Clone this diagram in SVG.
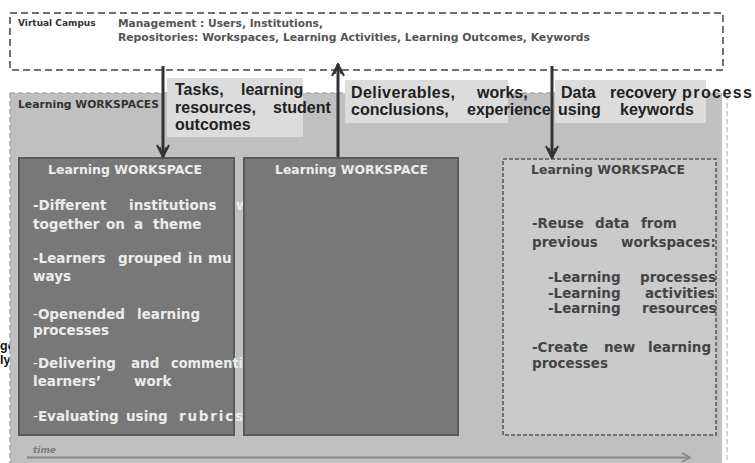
<svg xmlns="http://www.w3.org/2000/svg" width="755" height="463" viewBox="0 0 755 463">
<defs>
<style>
.lbl{font-family:"Liberation Sans",Arial,sans-serif;font-weight:bold;font-size:16px;fill:#222}
.body{font-family:"DejaVu Sans",Verdana,sans-serif;font-weight:bold;font-size:13.5px}
.lt{fill:#ececec}
.dk{fill:#444}
.hdr{font-family:"DejaVu Sans",Verdana,sans-serif;font-weight:bold;font-size:12px}
.thin{font-weight:normal}
.conn{stroke:#333;stroke-width:3;fill:none}
</style>
<marker id="ah" viewBox="0 0 14 14" refX="13" refY="7" markerWidth="14" markerHeight="14" markerUnits="userSpaceOnUse" orient="auto">
<path d="M1,1 L13,7 L1,13 M3,3.5 L13,7 L3,10.5" fill="none" stroke="#333" stroke-width="2"/>
</marker>
<marker id="th" viewBox="0 0 12 12" refX="11" refY="6" markerWidth="12" markerHeight="12" markerUnits="userSpaceOnUse" orient="auto">
<path d="M3,1.5 L11,6 L3,10.5" fill="none" stroke="#888" stroke-width="2"/>
</marker>
</defs>
<rect width="755" height="463" fill="#ffffff"/>

<!-- partly hidden text at the left edge -->
<g id="stray" font-family="Liberation Sans,Arial,sans-serif" font-weight="bold" font-size="12.5" fill="#111">
<text x="0" y="350">ge</text>
<text x="0" y="364">ly</text>
</g>

<!-- Virtual Campus -->
<g id="virtual-campus">
<rect x="10" y="13" width="713" height="57" fill="#ffffff" stroke="#444" stroke-width="1.5" stroke-dasharray="7,4"/>
<text x="18" y="26" font-family="DejaVu Sans,Verdana,sans-serif" font-weight="bold" font-size="9" fill="#333">Virtual Campus</text>
<text x="118" y="27" font-family="DejaVu Sans,Verdana,sans-serif" font-weight="bold" font-size="10.3" fill="#555" textLength="205" lengthAdjust="spacingAndGlyphs">Management : Users, Institutions,</text>
<text x="118" y="41" font-family="DejaVu Sans,Verdana,sans-serif" font-weight="bold" font-size="10.3" fill="#555" textLength="472" lengthAdjust="spacingAndGlyphs">Repositories: Workspaces, Learning Activities, Learning Outcomes, Keywords</text>
</g>

<!-- Learning WORKSPACES background -->
<g id="workspaces">
<rect x="10" y="93" width="712" height="370" fill="#c0c0c0"/>
<path d="M10,93 H722 M10,93 V463" stroke="#a9a9a9" stroke-width="1.5" stroke-dasharray="5,3" fill="none"/>
<path d="M727,95 V463" stroke="#c8c8c8" stroke-width="1.5" stroke-dasharray="5,3" fill="none"/>
<text x="18" y="108" font-family="DejaVu Sans,Verdana,sans-serif" font-weight="bold" font-size="10.7" fill="#333" textLength="141" lengthAdjust="spacingAndGlyphs">Learning WORKSPACES</text>
</g>

<!-- label boxes -->
<g id="label-tasks">
<rect x="167" y="78" width="136" height="59" fill="#dcdcdc"/>
<text class="lbl" x="175" y="95">Tasks,</text>
<text class="lbl" x="241" y="95">learning</text>
<text class="lbl" x="175" y="113">resources,</text>
<text class="lbl" x="273" y="113">student</text>
<text class="lbl" x="175" y="130">outcomes</text>
</g>
<g id="label-deliverables">
<rect x="345" y="80" width="163" height="43" fill="#dcdcdc"/>
<text class="lbl" x="351" y="98" textLength="104" lengthAdjust="spacing">Deliverables,</text>
<text class="lbl" x="477" y="98">works,</text>
<text class="lbl" x="351" y="115">conclusions,</text>
<text class="lbl" x="467" y="115">experience</text>
</g>
<g id="label-data">
<rect x="555" y="80" width="151" height="43" fill="#dcdcdc"/>
<text class="lbl" x="561" y="98">Data</text>
<text class="lbl" x="610" y="98">recovery</text>
<text class="lbl" x="682" y="98" textLength="70" lengthAdjust="spacing">process</text>
<text class="lbl" x="558" y="115">using</text>
<text class="lbl" x="620" y="115">keywords</text>
</g>

<!-- Left workspace -->
<g id="ws-left">
<rect x="19" y="158" width="215" height="277" fill="#787878" stroke="#5a5a5a" stroke-width="2"/>
<text class="hdr lt" x="48" y="174" textLength="154" lengthAdjust="spacingAndGlyphs">Learning WORKSPACE</text>
<text class="body lt" y="210"><tspan x="33">-Different</tspan><tspan x="129">institutions</tspan><tspan x="236">w</tspan></text>
<text class="body lt" y="229"><tspan x="33">together</tspan><tspan x="106">on</tspan><tspan x="134">a</tspan><tspan x="153">theme</tspan></text>
<text class="body lt" y="263"><tspan x="33">-Learners</tspan><tspan x="118">grouped</tspan><tspan x="188">in</tspan><tspan x="208">mu</tspan></text>
<text class="body lt" y="281"><tspan x="33">ways</tspan></text>
<text class="body lt" y="319"><tspan x="33" class="thin">-</tspan><tspan>Openended</tspan><tspan x="137">learning</tspan></text>
<text class="body lt" y="335"><tspan x="33">processes</tspan></text>
<text class="body lt" y="368"><tspan x="33" class="thin">-</tspan><tspan>Delivering</tspan><tspan x="131">and</tspan></text>
<text class="body lt" x="171" y="368" textLength="72" lengthAdjust="spacingAndGlyphs">commenti</text>
<text class="body lt" y="386"><tspan x="33">learners’</tspan><tspan x="134">work</tspan></text>
<text class="body lt" y="421"><tspan x="33" class="thin">-</tspan><tspan>Evaluating</tspan><tspan x="126">using</tspan></text>
<text class="body lt" x="179" y="421" textLength="64" lengthAdjust="spacing">rubrics</text>
</g>

<!-- Middle workspace -->
<g id="ws-middle">
<rect x="244" y="158" width="214" height="277" fill="#787878" stroke="#5a5a5a" stroke-width="2"/>
<text class="hdr lt" x="275" y="174" textLength="153" lengthAdjust="spacingAndGlyphs">Learning WORKSPACE</text>
</g>

<!-- Right workspace -->
<g id="ws-right">
<rect x="503" y="159" width="213" height="276" fill="#cacaca" stroke="#555" stroke-width="1.5" stroke-dasharray="4,2"/>
<text class="hdr dk" x="531" y="174" textLength="154" lengthAdjust="spacingAndGlyphs">Learning WORKSPACE</text>
<text class="body dk" y="228"><tspan x="532">-Reuse</tspan><tspan x="595">data</tspan><tspan x="641">from</tspan></text>
<text class="body dk" y="247"><tspan x="532">previous</tspan><tspan x="621">workspaces:</tspan></text>
<text class="body dk" y="282"><tspan x="548">-Learning</tspan><tspan x="640">processes</tspan></text>
<text class="body dk" y="298"><tspan x="548">-Learning</tspan><tspan x="645">activities</tspan></text>
<text class="body dk" y="313"><tspan x="548">-Learning</tspan><tspan x="642">resources</tspan></text>
<text class="body dk" y="352"><tspan x="532">-Create</tspan><tspan x="604">new</tspan><tspan x="648">learning</tspan></text>
<text class="body dk" y="368"><tspan x="532">processes</tspan></text>
</g>

<!-- time axis -->
<g id="time-axis">
<text x="33" y="453" font-family="DejaVu Sans,Verdana,sans-serif" font-weight="bold" font-style="italic" font-size="9" fill="#7a7a7a">time</text>
</g>

<!-- connectors -->
<g id="connectors">
<line class="conn" x1="163" y1="66" x2="163" y2="157" marker-end="url(#ah)"/>
<line class="conn" x1="338" y1="157" x2="338" y2="64" marker-end="url(#ah)"/>
<line class="conn" x1="552" y1="66" x2="552" y2="158" marker-end="url(#ah)"/>
<line x1="27" y1="457.5" x2="690" y2="457.5" stroke="#888" stroke-width="2" marker-end="url(#th)"/>
</g>
</svg>
